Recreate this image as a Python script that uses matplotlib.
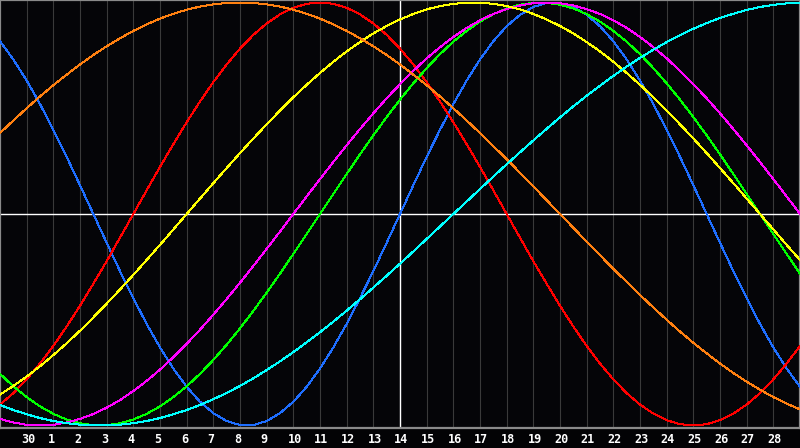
import matplotlib
matplotlib.use('Agg')
import matplotlib.pyplot as plt

# half-day steps over the 30 grid columns, today = column 15
days = [d / 2 for d in range(61)]
day_labels = ['30'] + [str(d) for d in range(1, 29)]

# values, every half day
physical = [0.817, 0.731, 0.631, 0.520, 0.398, 0.270, 0.136, 0.0, -0.136, -0.270,
            -0.398, -0.520, -0.631, -0.731, -0.817, -0.888, -0.942, -0.979, -0.998, -0.998,
            -0.979, -0.942, -0.888, -0.817, -0.731, -0.631, -0.520, -0.398, -0.270, -0.136,
            0.0, 0.136, 0.270, 0.398, 0.520, 0.631, 0.731, 0.817, 0.888, 0.942,
            0.979, 0.998, 0.998, 0.979, 0.942, 0.888, 0.817, 0.731, 0.631, 0.520,
            0.398, 0.270, 0.136, 0.0, -0.136, -0.270, -0.398, -0.520, -0.631, -0.731, -0.817]
emotional = [-0.901, -0.847, -0.782, -0.707, -0.624, -0.532, -0.434, -0.330, -0.223, -0.112,
             0.0, 0.112, 0.223, 0.330, 0.434, 0.532, 0.624, 0.707, 0.782, 0.847,
             0.901, 0.944, 0.975, 0.994, 1.000, 0.994, 0.975, 0.944, 0.901, 0.847,
             0.782, 0.707, 0.624, 0.532, 0.434, 0.330, 0.223, 0.112, 0.0, -0.112,
             -0.223, -0.330, -0.434, -0.532, -0.624, -0.707, -0.782, -0.847, -0.901, -0.944,
             -0.975, -0.994, -1.000, -0.994, -0.975, -0.944, -0.901, -0.847, -0.782, -0.707, -0.624]
intellectual = [-0.756, -0.815, -0.866, -0.910, -0.945, -0.972, -0.990, -0.999, -0.999, -0.990,
                -0.972, -0.945, -0.910, -0.866, -0.815, -0.756, -0.690, -0.618, -0.541, -0.458,
                -0.372, -0.282, -0.189, -0.095, 0.0, 0.095, 0.189, 0.282, 0.372, 0.458,
                0.541, 0.618, 0.690, 0.756, 0.815, 0.866, 0.910, 0.945, 0.972, 0.990,
                0.999, 0.999, 0.990, 0.972, 0.945, 0.910, 0.866, 0.815, 0.756, 0.690,
                0.618, 0.541, 0.458, 0.372, 0.282, 0.189, 0.095, 0.0, -0.095, -0.189, -0.282]
intuitive = [-0.969, -0.986, -0.997, -1.000, -0.997, -0.986, -0.969, -0.946, -0.916, -0.880,
             -0.837, -0.789, -0.736, -0.677, -0.614, -0.547, -0.476, -0.402, -0.325, -0.246,
             -0.165, -0.083, 0.0, 0.083, 0.165, 0.246, 0.325, 0.402, 0.476, 0.547,
             0.614, 0.677, 0.736, 0.789, 0.837, 0.880, 0.916, 0.946, 0.969, 0.986,
             0.997, 1.000, 0.997, 0.986, 0.969, 0.946, 0.916, 0.880, 0.837, 0.789,
             0.736, 0.677, 0.614, 0.547, 0.476, 0.402, 0.325, 0.246, 0.165, 0.083, 0.0]
aesthetic = [-0.854, -0.813, -0.769, -0.720, -0.667, -0.611, -0.552, -0.489, -0.424, -0.357,
             -0.288, -0.217, -0.146, -0.073, 0.0, 0.073, 0.146, 0.217, 0.288, 0.357,
             0.424, 0.489, 0.552, 0.611, 0.667, 0.720, 0.769, 0.813, 0.854, 0.889,
             0.920, 0.946, 0.968, 0.983, 0.994, 0.999, 0.999, 0.994, 0.983, 0.968,
             0.946, 0.920, 0.889, 0.854, 0.813, 0.769, 0.720, 0.667, 0.611, 0.552,
             0.489, 0.424, 0.357, 0.288, 0.217, 0.146, 0.073, 0.0, -0.073, -0.146, -0.217]
awareness = [0.383, 0.442, 0.500, 0.556, 0.609, 0.659, 0.707, 0.752, 0.793, 0.831,
             0.866, 0.897, 0.924, 0.947, 0.966, 0.981, 0.991, 0.998, 1.000, 0.998,
             0.991, 0.981, 0.966, 0.947, 0.924, 0.897, 0.866, 0.831, 0.793, 0.752,
             0.707, 0.659, 0.609, 0.556, 0.500, 0.442, 0.383, 0.321, 0.259, 0.195,
             0.131, 0.065, 0.0, -0.065, -0.131, -0.195, -0.259, -0.321, -0.383, -0.442,
             -0.500, -0.556, -0.609, -0.659, -0.707, -0.752, -0.793, -0.831, -0.866, -0.897, -0.924]
spiritual = [-0.903, -0.927, -0.947, -0.965, -0.979, -0.989, -0.996, -1.000, -1.000, -0.996,
             -0.989, -0.979, -0.965, -0.947, -0.927, -0.903, -0.876, -0.846, -0.813, -0.777,
             -0.738, -0.697, -0.653, -0.607, -0.559, -0.509, -0.457, -0.403, -0.348, -0.292,
             -0.235, -0.177, -0.118, -0.059, 0.0, 0.059, 0.118, 0.177, 0.235, 0.292,
             0.348, 0.403, 0.457, 0.509, 0.559, 0.607, 0.653, 0.697, 0.738, 0.777,
             0.813, 0.846, 0.876, 0.903, 0.927, 0.947, 0.965, 0.979, 0.989, 0.996, 1.000]

curves = [
    (physical, '#1e6eff'),
    (emotional, '#ff0000'),
    (intellectual, '#00ff00'),
    (intuitive, '#ff00ff'),
    (aesthetic, '#ffff00'),
    (awareness, '#ff8010'),
    (spiritual, '#00ffff'),
]

fig = plt.figure(figsize=(8, 4.48), dpi=100, facecolor='#030305')
ax = fig.add_axes([0, 20 / 448, 1, 428 / 448])
ax.set_facecolor('#050508')
ax.set_xlim(0, 30)
ax.set_ylim(-1.012, 1.012)

# day grid
for k in range(1, 30):
    ax.axvline(k, color='#3a3a3a', lw=0.8, zorder=1)
ax.axvline(15, color='white', lw=1.0, zorder=2)
ax.axhline(0, color='white', lw=1.0, zorder=2)

for vals, col in curves:
    ax.plot(days, vals, color=col, lw=0.72, zorder=3, antialiased=False)

ax.set_xticks([])
ax.set_yticks([])
for s in ax.spines.values():
    s.set_color('#8a8a8a')
    s.set_linewidth(1.6)

# day labels under the grid lines
tr = ax.get_xaxis_transform()
for k, lab in zip(range(1, 30), day_labels):
    ax.text(k - 0.22, -0.036, lab, transform=tr, ha='left', va='baseline',
            color='white', fontsize=8.5, fontweight='bold',
            family='DejaVu Sans Mono', clip_on=False)

fig.savefig('out.png', dpi=100, facecolor=fig.get_facecolor())
